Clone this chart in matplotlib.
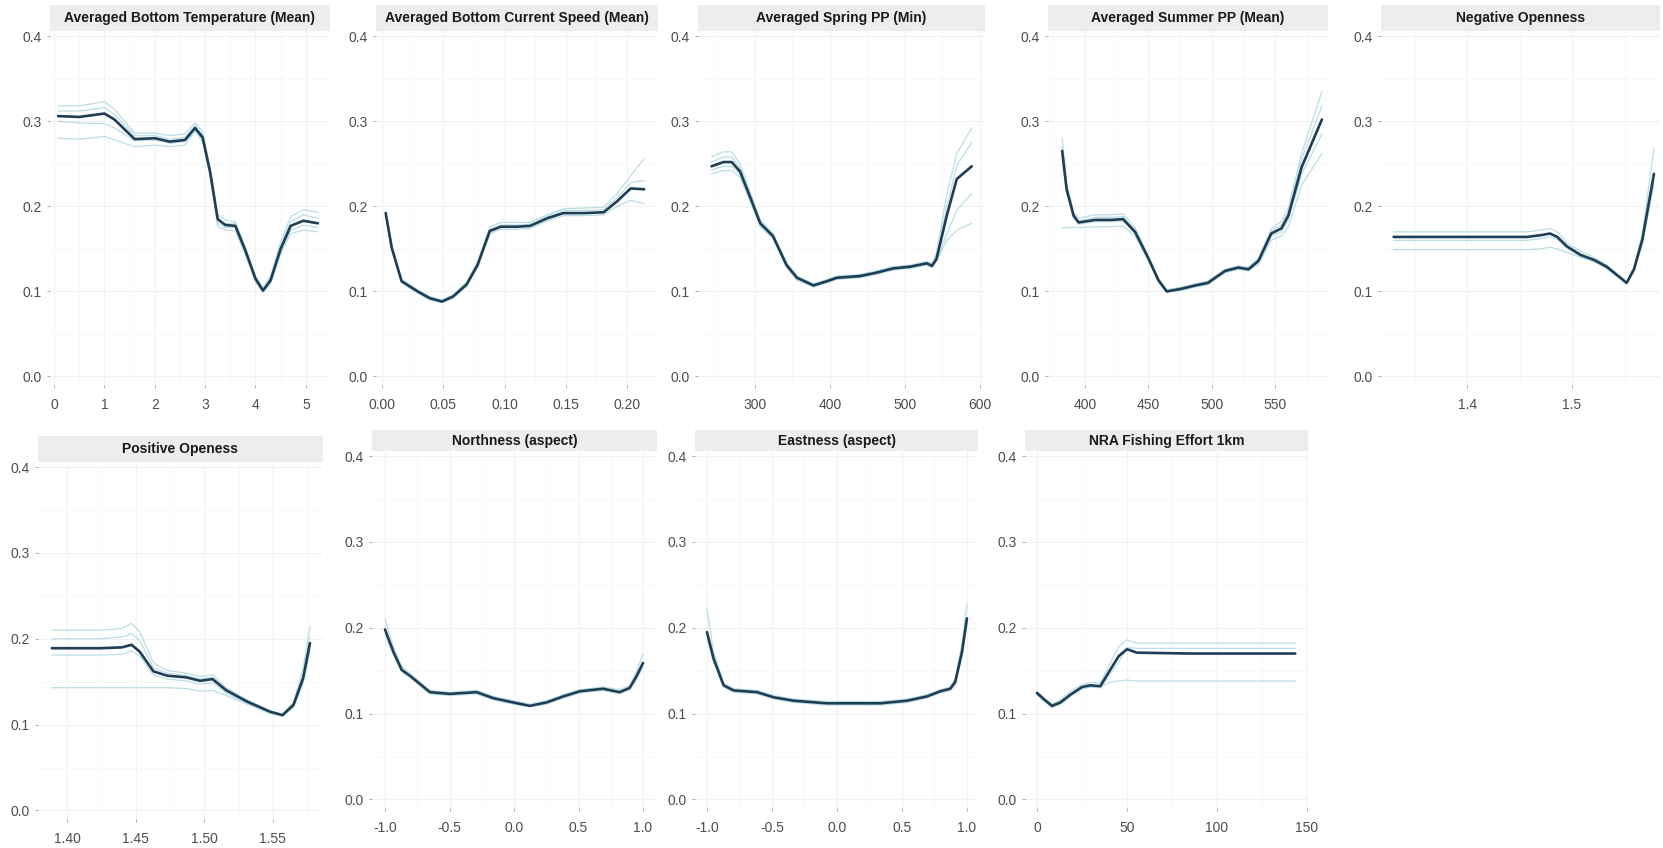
"""Partial dependence curves, 9 predictors (main fit + bootstrap runs)."""

import matplotlib
matplotlib.use("Agg")
import matplotlib.pyplot as plt
from matplotlib.patches import Rectangle
from matplotlib.ticker import FixedLocator, FormatStrFormatter

plt.rcParams["font.family"] = ["Liberation Sans", "DejaVu Sans"]
plt.rcParams["axes.unicode_minus"] = False

# ---- data ----
# Averaged Bottom Temperature (Mean)
temp_x = [0.08, 0.5, 1.0, 1.2, 1.6, 2.0, 2.3, 2.6, 2.8, 2.95, 3.1, 3.25, 3.4, 3.6,
          3.8, 4.0, 4.15, 4.3, 4.5, 4.7, 4.95, 5.24]
temp_main = [0.306, 0.305, 0.309, 0.302, 0.279, 0.280, 0.276, 0.278, 0.292, 0.281, 0.240,
             0.185, 0.178, 0.177, 0.148, 0.115, 0.101, 0.113, 0.150, 0.177, 0.183, 0.180]
temp_runs = [
    [0.318, 0.318, 0.323, 0.314, 0.286, 0.286, 0.283, 0.285, 0.298, 0.288, 0.245,
     0.190, 0.184, 0.182, 0.152, 0.118, 0.104, 0.118, 0.158, 0.188, 0.196, 0.193],
    [0.280, 0.279, 0.282, 0.278, 0.270, 0.272, 0.270, 0.272, 0.288, 0.276, 0.236,
     0.176, 0.172, 0.171, 0.143, 0.111, 0.099, 0.109, 0.144, 0.168, 0.172, 0.170],
    [0.300, 0.298, 0.297, 0.292, 0.277, 0.278, 0.274, 0.276, 0.290, 0.280, 0.238,
     0.180, 0.175, 0.175, 0.146, 0.113, 0.100, 0.111, 0.147, 0.172, 0.178, 0.175],
    [0.312, 0.312, 0.316, 0.308, 0.283, 0.283, 0.279, 0.281, 0.295, 0.284, 0.242,
     0.183, 0.180, 0.180, 0.150, 0.116, 0.102, 0.115, 0.153, 0.182, 0.190, 0.186],
]

# Averaged Bottom Current Speed (Mean)
curr_x = [0.003, 0.008, 0.016, 0.029, 0.039, 0.049, 0.058, 0.069, 0.078, 0.088, 0.097,
          0.110, 0.121, 0.135, 0.148, 0.165, 0.181, 0.192, 0.203, 0.214]
curr_main = [0.192, 0.151, 0.112, 0.100, 0.092, 0.088, 0.094, 0.108, 0.131, 0.171, 0.176,
             0.176, 0.177, 0.186, 0.192, 0.192, 0.193, 0.206, 0.221, 0.220]
curr_runs = [
    [0.194, 0.153, 0.114, 0.102, 0.094, 0.090, 0.096, 0.111, 0.135, 0.176, 0.181,
     0.181, 0.181, 0.190, 0.197, 0.198, 0.199, 0.215, 0.236, 0.256],
    [0.190, 0.149, 0.110, 0.098, 0.090, 0.087, 0.092, 0.106, 0.128, 0.168, 0.173,
     0.173, 0.174, 0.183, 0.189, 0.189, 0.190, 0.200, 0.207, 0.203],
    [0.193, 0.152, 0.113, 0.101, 0.093, 0.089, 0.095, 0.109, 0.133, 0.173, 0.178,
     0.178, 0.179, 0.188, 0.195, 0.195, 0.196, 0.210, 0.228, 0.230],
]

# Averaged Spring PP (Min)
spring_x = [242, 258, 269, 280, 293, 307, 324, 342, 356, 378, 396, 409, 440, 462, 484,
            507, 529, 536, 542, 556, 569, 589]
spring_main = [0.247, 0.252, 0.252, 0.241, 0.212, 0.180, 0.165, 0.131, 0.116, 0.107, 0.112,
               0.116, 0.118, 0.122, 0.127, 0.129, 0.133, 0.130, 0.138, 0.190, 0.232, 0.247]
spring_runs = [
    [0.258, 0.264, 0.264, 0.250, 0.218, 0.184, 0.168, 0.134, 0.118, 0.109, 0.114,
     0.118, 0.120, 0.124, 0.129, 0.131, 0.135, 0.133, 0.145, 0.215, 0.262, 0.292],
    [0.238, 0.242, 0.242, 0.234, 0.207, 0.176, 0.162, 0.128, 0.113, 0.105, 0.110,
     0.114, 0.116, 0.120, 0.125, 0.127, 0.131, 0.128, 0.136, 0.168, 0.195, 0.215],
    [0.252, 0.258, 0.258, 0.245, 0.215, 0.182, 0.166, 0.133, 0.117, 0.108, 0.113,
     0.117, 0.119, 0.123, 0.128, 0.130, 0.134, 0.131, 0.142, 0.200, 0.248, 0.275],
    [0.243, 0.247, 0.247, 0.238, 0.210, 0.178, 0.164, 0.130, 0.115, 0.106, 0.111,
     0.115, 0.117, 0.121, 0.126, 0.128, 0.132, 0.129, 0.136, 0.160, 0.172, 0.180],
]

# Averaged Summer PP (Mean)
summer_x = [382, 385.5, 391, 395, 408, 421, 430, 439.5, 450, 458, 464.5, 476, 487, 497,
            510.5, 521, 529, 537, 547, 555, 560.5, 571, 587]
summer_main = [0.265, 0.220, 0.189, 0.181, 0.184, 0.184, 0.185, 0.170, 0.139, 0.113, 0.100,
               0.103, 0.107, 0.110, 0.124, 0.128, 0.126, 0.136, 0.168, 0.174, 0.189, 0.246,
               0.302]
summer_runs = [
    [0.280, 0.228, 0.193, 0.186, 0.190, 0.190, 0.191, 0.175, 0.142, 0.115, 0.102, 0.105,
     0.109, 0.112, 0.126, 0.130, 0.128, 0.139, 0.174, 0.182, 0.198, 0.262, 0.335],
    [0.175, 0.175, 0.175, 0.175, 0.176, 0.176, 0.177, 0.165, 0.136, 0.111, 0.099, 0.101,
     0.105, 0.108, 0.122, 0.126, 0.124, 0.132, 0.160, 0.165, 0.176, 0.225, 0.262],
    [0.270, 0.224, 0.191, 0.183, 0.187, 0.187, 0.188, 0.172, 0.140, 0.114, 0.101, 0.104,
     0.108, 0.111, 0.125, 0.129, 0.127, 0.138, 0.171, 0.178, 0.193, 0.255, 0.318],
    [0.258, 0.216, 0.186, 0.179, 0.182, 0.182, 0.183, 0.168, 0.138, 0.112, 0.100, 0.102,
     0.106, 0.109, 0.123, 0.127, 0.125, 0.134, 0.165, 0.170, 0.184, 0.238, 0.285],
]

# Negative Openness
negop_x = [1.330, 1.387, 1.457, 1.470, 1.479, 1.486, 1.495, 1.508, 1.521, 1.533, 1.544,
           1.552, 1.559, 1.567, 1.578]
negop_main = [0.164, 0.164, 0.164, 0.166, 0.168, 0.164, 0.153, 0.143, 0.137, 0.129, 0.118,
              0.110, 0.126, 0.161, 0.238]
negop_runs = [
    [0.170, 0.170, 0.170, 0.172, 0.174, 0.170, 0.157, 0.147, 0.140, 0.131, 0.120,
     0.111, 0.128, 0.168, 0.268],
    [0.149, 0.149, 0.149, 0.150, 0.152, 0.150, 0.146, 0.140, 0.135, 0.127, 0.117,
     0.109, 0.123, 0.155, 0.225],
    [0.160, 0.160, 0.160, 0.162, 0.164, 0.161, 0.151, 0.141, 0.135, 0.128, 0.117,
     0.110, 0.125, 0.158, 0.230],
]

# Positive Openess
posop_x = [1.389, 1.424, 1.440, 1.447, 1.453, 1.463, 1.473, 1.487, 1.497, 1.506, 1.516,
           1.531, 1.548, 1.557, 1.565, 1.572, 1.577]
posop_main = [0.189, 0.189, 0.190, 0.193, 0.185, 0.162, 0.157, 0.155, 0.151, 0.153, 0.140,
              0.127, 0.115, 0.111, 0.123, 0.154, 0.195]
posop_runs = [
    [0.210, 0.210, 0.212, 0.218, 0.208, 0.172, 0.163, 0.160, 0.156, 0.158, 0.143,
     0.129, 0.116, 0.112, 0.126, 0.165, 0.215],
    [0.200, 0.200, 0.202, 0.206, 0.198, 0.166, 0.160, 0.157, 0.153, 0.155, 0.141,
     0.128, 0.115, 0.111, 0.124, 0.158, 0.203],
    [0.181, 0.181, 0.182, 0.186, 0.180, 0.158, 0.153, 0.151, 0.147, 0.149, 0.137,
     0.125, 0.114, 0.110, 0.121, 0.150, 0.188],
    [0.143, 0.143, 0.143, 0.143, 0.143, 0.143, 0.143, 0.142, 0.139, 0.140, 0.134,
     0.124, 0.113, 0.110, 0.120, 0.148, 0.185],
]

# Northness (aspect)
north_x = [-1.0, -0.935, -0.871, -0.806, -0.652, -0.497, -0.290, -0.161, -0.006, 0.123,
           0.252, 0.381, 0.510, 0.690, 0.819, 0.897, 0.948, 1.0]
north_main = [0.198, 0.172, 0.151, 0.144, 0.125, 0.123, 0.125, 0.118, 0.113, 0.109, 0.113,
              0.120, 0.126, 0.129, 0.125, 0.130, 0.143, 0.159]
north_runs = [
    [0.210, 0.178, 0.155, 0.147, 0.127, 0.125, 0.127, 0.120, 0.115, 0.111, 0.115,
     0.122, 0.128, 0.131, 0.128, 0.133, 0.148, 0.170],
    [0.192, 0.169, 0.149, 0.142, 0.123, 0.121, 0.123, 0.116, 0.111, 0.108, 0.111,
     0.118, 0.124, 0.127, 0.123, 0.128, 0.140, 0.154],
]

# Eastness (aspect)
east_x = [-1.0, -0.949, -0.872, -0.795, -0.615, -0.487, -0.333, -0.077, 0.128, 0.333,
          0.538, 0.692, 0.795, 0.872, 0.910, 0.962, 1.0]
east_main = [0.195, 0.164, 0.133, 0.127, 0.125, 0.119, 0.115, 0.112, 0.112, 0.112, 0.115,
             0.120, 0.126, 0.129, 0.137, 0.172, 0.211]
east_runs = [
    [0.222, 0.172, 0.136, 0.129, 0.127, 0.121, 0.117, 0.114, 0.114, 0.114, 0.117,
     0.122, 0.128, 0.131, 0.141, 0.182, 0.228],
    [0.188, 0.160, 0.131, 0.125, 0.123, 0.117, 0.113, 0.110, 0.110, 0.110, 0.113,
     0.118, 0.124, 0.127, 0.134, 0.166, 0.205],
]

# NRA Fishing Effort 1km
fish_x = [0, 3.7, 8.3, 13, 18.5, 25, 29.6, 35.2, 39.8, 45.4, 50, 55.6, 85, 143.5]
fish_main = [0.124, 0.117, 0.109, 0.113, 0.122, 0.131, 0.133, 0.132, 0.148, 0.167, 0.175,
             0.171, 0.170, 0.170]
fish_runs = [
    [0.126, 0.119, 0.111, 0.116, 0.126, 0.134, 0.136, 0.136, 0.155, 0.178, 0.186,
     0.182, 0.182, 0.182],
    [0.122, 0.115, 0.107, 0.111, 0.120, 0.129, 0.131, 0.130, 0.144, 0.160, 0.177,
     0.176, 0.176, 0.176],
    [0.123, 0.116, 0.108, 0.112, 0.121, 0.129, 0.131, 0.131, 0.136, 0.138, 0.139,
     0.138, 0.138, 0.138],
]

titles = [
    "Averaged Bottom Temperature (Mean)", "Averaged Bottom Current Speed (Mean)",
    "Averaged Spring PP (Min)", "Averaged Summer PP (Mean)", "Negative Openness",
    "Positive Openess", "Northness (aspect)", "Eastness (aspect)", "NRA Fishing Effort 1km",
]
x_ticks = [
    [0, 1, 2, 3, 4, 5], [0.00, 0.05, 0.10, 0.15, 0.20], [300, 400, 500, 600],
    [400, 450, 500, 550], [1.4, 1.5], [1.40, 1.45, 1.50, 1.55],
    [-1.0, -0.5, 0.0, 0.5, 1.0], [-1.0, -0.5, 0.0, 0.5, 1.0], [0, 50, 100, 150],
]
x_fmt = ["%d", "%.2f", "%d", "%d", "%.1f", "%.2f", "%.1f", "%.1f", "%d"]
y_ticks = [0.0, 0.1, 0.2, 0.3, 0.4]

series = [
    (temp_x, temp_main, temp_runs), (curr_x, curr_main, curr_runs),
    (spring_x, spring_main, spring_runs), (summer_x, summer_main, summer_runs),
    (negop_x, negop_main, negop_runs), (posop_x, posop_main, posop_runs),
    (north_x, north_main, north_runs), (east_x, east_main, east_runs),
    (fish_x, fish_main, fish_runs),
]

# ---- layout (pixels: left, right, top, bottom, strip top) and x limits ----
W, H = 1663, 848
boxes = [
    (50, 330, 31, 385, 5), (376, 658, 31, 385, 5), (698, 985, 31, 385, 5),
    (1048, 1328, 31, 385, 5), (1381, 1660, 31, 385, 5),
    (38, 323, 462, 819, 436), (372, 657, 451, 808, 430), (695, 978, 451, 808, 430),
    (1025, 1308, 451, 808, 430),
]
xlims = [
    (-0.08, 5.48), (-0.0049, 0.2253), (224.0, 606.7), (370.8, 591.8), (1.318, 1.5838),
    (1.3789, 1.5865), (-1.1008, 1.1085), (-1.092, 1.085), (-6.67, 150.6),
]
YLIM = (-0.01, 0.406)

MAIN_COL = "#1f3d54"
RUN_COL = "#a9d6de"
GRID_COL = "#f1f1f1"
MINOR_COL = "#f7f7f7"
STRIP_COL = "#efecec"

fig = plt.figure(figsize=(W / 100, H / 100), dpi=100)

for i, (l, r, t, b, st) in enumerate(boxes):
    ax = fig.add_axes([l / W, 1 - b / H, (r - l) / W, (b - t) / H])
    xs, main, runs = series[i]
    for run in runs:
        ax.plot(xs, run, color=RUN_COL, lw=0.9, alpha=0.8, solid_capstyle="round")
    ax.plot(xs, main, color=MAIN_COL, lw=1.9, solid_capstyle="round", zorder=3)

    ax.set_xlim(*xlims[i])
    ax.set_ylim(*YLIM)
    xt = x_ticks[i]
    ax.xaxis.set_major_locator(FixedLocator(xt))
    ax.xaxis.set_major_formatter(FormatStrFormatter(x_fmt[i]))
    step = xt[1] - xt[0]
    minors = [xt[0] - step / 2] + [v + step / 2 for v in xt]
    ax.xaxis.set_minor_locator(FixedLocator(minors))
    ax.yaxis.set_major_locator(FixedLocator(y_ticks))
    ax.yaxis.set_major_formatter(FormatStrFormatter("%.1f"))
    ax.yaxis.set_minor_locator(FixedLocator([0.05, 0.15, 0.25, 0.35]))

    ax.grid(True, which="major", color=GRID_COL, lw=0.8)
    ax.grid(True, which="minor", color=MINOR_COL, lw=0.6)
    ax.set_axisbelow(True)
    for sp in ax.spines.values():
        sp.set_visible(False)
    ax.tick_params(which="major", length=2.2, width=0.6, color="#a0a0a0",
                   labelsize=10, labelcolor="#4d4d4d")
    ax.tick_params(axis="x", pad=7)
    ax.tick_params(axis="y", pad=4)
    ax.tick_params(which="minor", length=0)

    # strip with the facet title
    fig.patches.append(Rectangle((l / W, 1 - t / H), (r - l) / W, (t - st) / H,
                                 transform=fig.transFigure, facecolor=STRIP_COL,
                                 edgecolor="none", zorder=0))
    fig.text((l + r) / 2 / W, 1 - (t + st) / 2 / H, titles[i], ha="center",
             va="center", fontsize=10, fontweight="bold", color="#1a1a1a")

fig.savefig("out.png", dpi=100, facecolor="white")
